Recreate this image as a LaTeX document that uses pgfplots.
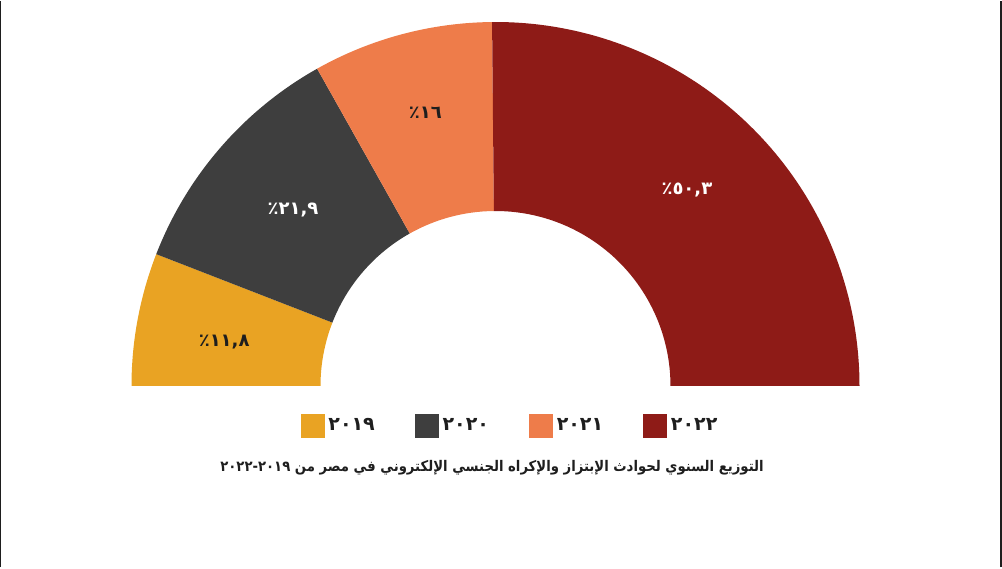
\documentclass[border=0pt]{standalone}
\usepackage{pgfplots}
\usepackage{pgfplotstable}
\pgfplotsset{compat=1.18}
\usepackage{fontspec}
\setmainfont{DejaVu Sans}
\newfontfamily\arabicfont[Script=Arabic]{DejaVu Sans}
\TeXXeTstate=1
\definecolor{c2019}{HTML}{E9A323}
\definecolor{c2020}{HTML}{3E3E3E}
\definecolor{c2021}{HTML}{EE7C4A}
\definecolor{c2022}{HTML}{8E1B17}
\definecolor{txt}{HTML}{1E1E1E}
\pgfplotstableread{
year value
2019 11.8
2020 21.9
2021 16.0
2022 50.3
}\datatable
\pgfplotstablegetelem{0}{value}\of\datatable\let\vA\pgfplotsretval
\pgfplotstablegetelem{1}{value}\of\datatable\let\vB\pgfplotsretval
\pgfplotstablegetelem{2}{value}\of\datatable\let\vC\pgfplotsretval
\pgfplotstablegetelem{3}{value}\of\datatable\let\vD\pgfplotsretval
\pgfmathsetmacro\aA{180}
\pgfmathsetmacro\aB{\aA-1.8*\vA}
\pgfmathsetmacro\aC{\aB-1.8*\vB}
\pgfmathsetmacro\aD{\aC-1.8*\vC}
\pgfmathsetmacro\aE{\aD-1.8*\vD}
\pgfmathsetmacro\mA{(\aA+\aB)/2}
\pgfmathsetmacro\mB{(\aB+\aC)/2}
\pgfmathsetmacro\mC{(\aC+\aD)/2}
\pgfmathsetmacro\mD{(\aD+\aE)/2}
\def\cx{495.5}\def\cy{181}\def\Ro{364}\def\Ri{175}\def\Rm{272}
\begin{document}%
\begin{tikzpicture}
\begin{axis}[
  scale only axis, width=501pt, height=283pt,
  xmin=0, xmax=1002, ymin=0, ymax=566,
  hide axis, clip=false,
  legend columns=4,
  legend style={at={(axis cs:511,141)}, anchor=center, draw=none, fill=none,
    font=\arabicfont\bfseries\fontsize{9.5}{11}\selectfont, text=txt,
    /tikz/every even column/.append style={column sep=18pt}},
]
\path (axis cs:0,0) rectangle (axis cs:1002,566);
\fill[c2019] (axis cs:{\cx+\Ro*cos(\aA)},{\cy+\Ro*sin(\aA)}) arc[start angle=\aA, end angle=\aB, radius=182pt]
  -- (axis cs:{\cx+\Ri*cos(\aB)},{\cy+\Ri*sin(\aB)}) arc[start angle=\aB, end angle=\aA, radius=87.5pt] -- cycle;
\fill[c2020] (axis cs:{\cx+\Ro*cos(\aB)},{\cy+\Ro*sin(\aB)}) arc[start angle=\aB, end angle=\aC, radius=182pt]
  -- (axis cs:{\cx+\Ri*cos(\aC)},{\cy+\Ri*sin(\aC)}) arc[start angle=\aC, end angle=\aB, radius=87.5pt] -- cycle;
\fill[c2021] (axis cs:{\cx+\Ro*cos(\aC)},{\cy+\Ro*sin(\aC)}) arc[start angle=\aC, end angle=\aD, radius=182pt]
  -- (axis cs:{\cx+\Ri*cos(\aD)},{\cy+\Ri*sin(\aD)}) arc[start angle=\aD, end angle=\aC, radius=87.5pt] -- cycle;
\fill[c2022] (axis cs:{\cx+\Ro*cos(\aD)},{\cy+\Ro*sin(\aD)}) arc[start angle=\aD, end angle=\aE, radius=182pt]
  -- (axis cs:{\cx+\Ri*cos(\aE)},{\cy+\Ri*sin(\aE)}) arc[start angle=\aE, end angle=\aD, radius=87.5pt] -- cycle;
\node[text=txt, font=\arabicfont\bfseries\fontsize{9}{11}\selectfont] at (axis cs:{\cx+\Rm*cos(\mA)-4},{\cy+\Rm*sin(\mA)-6}) {١١,٨٪};
\node[text=white, font=\arabicfont\bfseries\fontsize{9}{11}\selectfont] at (axis cs:{\cx+\Rm*cos(\mB)+3},{\cy+\Rm*sin(\mB)-2}) {٢١,٩٪};
\node[text=txt, font=\arabicfont\bfseries\fontsize{9}{11}\selectfont] at (axis cs:{\cx+\Rm*cos(\mC)},{\cy+\Rm*sin(\mC)+10}) {١٦٪};
\node[text=white, font=\arabicfont\bfseries\fontsize{9}{11}\selectfont] at (axis cs:{\cx+\Rm*cos(\mD)},{\cy+\Rm*sin(\mD)+3}) {٥٠,٣٪};
\addlegendimage{legend image code/.code={\fill[c2019] (0pt,-5.75pt) rectangle (11.5pt,5.75pt);}}
\addlegendentry{٢٠١٩}
\addlegendimage{legend image code/.code={\fill[c2020] (0pt,-5.75pt) rectangle (11.5pt,5.75pt);}}
\addlegendentry{٢٠٢٠}
\addlegendimage{legend image code/.code={\fill[c2021] (0pt,-5.75pt) rectangle (11.5pt,5.75pt);}}
\addlegendentry{٢٠٢١}
\addlegendimage{legend image code/.code={\fill[c2022] (0pt,-5.75pt) rectangle (11.5pt,5.75pt);}}
\addlegendentry{٢٠٢٢}
\node[text=txt, font=\arabicfont\bfseries\fontsize{7}{9}\selectfont] at (axis cs:492,99) {\scalebox{0.945}[1.05]{\beginR التوزيع السنوي لحوادث الإبتزاز والإكراه الجنسي الإلكتروني في مصر من \beginL٢٠١٩-٢٠٢٢\endL\endR}};
\draw[line width=0.7pt, color=txt] (axis cs:0.7,0) -- (axis cs:0.7,566);
\draw[line width=1pt, color=txt] (axis cs:1001,0) -- (axis cs:1001,566);
\end{axis}
\end{tikzpicture}%
\end{document}
